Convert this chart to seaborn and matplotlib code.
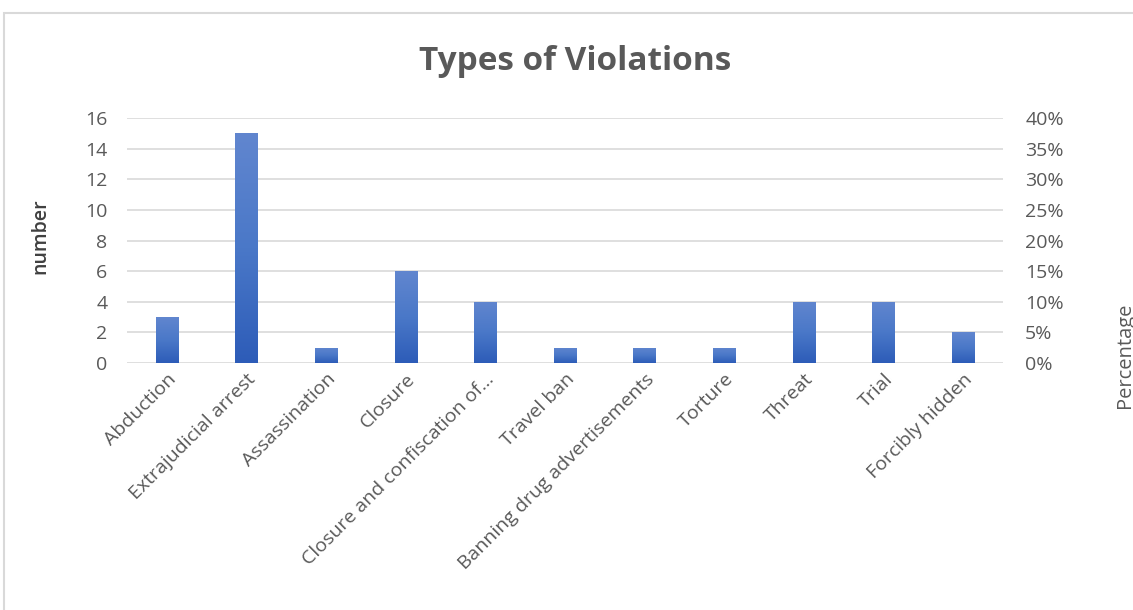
import matplotlib
matplotlib.use("Agg")
import matplotlib.pyplot as plt
import seaborn as sns
import numpy as np
import pandas as pd
from matplotlib.patches import Rectangle
from matplotlib.colors import LinearSegmentedColormap
from matplotlib.ticker import FuncFormatter

categories = ["Abduction", "Extrajudicial arrest", "Assassination", "Closure",
              "Closure and confiscation of...", "Travel ban",
              "Banning drug advertisements", "Torture", "Threat", "Trial",
              "Forcibly hidden"]
counts = [3, 15, 1, 6, 4, 1, 1, 1, 4, 4, 2]
left_ticks = [0, 2, 4, 6, 8, 10, 12, 14, 16]
right_ticks = [0, 0.05, 0.10, 0.15, 0.20, 0.25, 0.30, 0.35, 0.40]

sns.set_style("white")
plt.rcParams['font.family'] = ['Open Sans', 'DejaVu Sans']

df = pd.DataFrame({"category": categories, "count": counts})

fig = plt.figure(figsize=(11.33, 6.10), dpi=100)
ax = fig.add_axes([127/1133, 1-363/610, 876/1133, 245/610])

sns.barplot(data=df, x="category", y="count", ax=ax, color="#4472c4",
            width=0.28, saturation=1)

ax.set_ylim(0, 16)
ax.set_xlim(-0.5, len(categories)-0.5)
ax.set_yticks(left_ticks)
ax.yaxis.grid(True, color="#d9d9d9", linewidth=1.2)
ax.set_axisbelow(True)
for s in ax.spines.values():
    s.set_visible(False)

# gradient fill on bars
cmap = LinearSegmentedColormap.from_list("g", ["#2d5cb8", "#4a78c8", "#6186cf"])
grad = np.linspace(0, 1, 256).reshape(-1, 1)
for p in ax.patches:
    x0, y0 = p.get_x(), p.get_y()
    w, h = p.get_width(), p.get_height()
    p.set_facecolor("none")
    p.set_edgecolor("none")
    im = ax.imshow(grad, cmap=cmap, aspect="auto", origin="lower",
                   extent=[x0, x0+w, y0, y0+h], zorder=3)
    im.set_clip_path(p)
ax.set_xlim(-0.5, len(categories)-0.5)
ax.set_ylim(0, 16)

ax.tick_params(axis="y", length=0, labelsize=14, labelcolor="#595959", pad=14)
ax.tick_params(axis="x", length=0, labelsize=14, labelcolor="#595959", pad=5)
ax.set_xticks(range(len(categories)))
ax.set_xticklabels(categories, rotation=45, ha="right", rotation_mode="anchor")
ax.set_xlabel("")
ax.set_ylabel("")

ax2 = ax.twinx()
ax2.set_ylim(0, 0.40)
ax2.set_yticks(right_ticks)
ax2.yaxis.set_major_formatter(FuncFormatter(lambda v, _: f"{round(v*100)}%"))
ax2.tick_params(axis="y", length=0, labelsize=14, labelcolor="#595959", pad=16)
for s in ax2.spines.values():
    s.set_visible(False)

fig.text(575/1133, 1-62/610, "Types of Violations", ha="center", va="center",
         fontsize=24, fontweight="bold", color="#595959")
fig.text(40/1133, 1-236/610, "number", rotation=90, ha="center", va="center",
         fontsize=14, fontweight="semibold", color="#404040")
fig.text(1125/1133, 1-355/610, "Percentage", rotation=90, ha="center", va="center",
         fontsize=14.5, color="#595959")

fig.patches.append(Rectangle((4/1133, -0.05), 1.2, (1-13/610)+0.05,
                             transform=fig.transFigure, fill=False,
                             edgecolor="#d9d9d9", linewidth=1.5))

fig.savefig("out.png", dpi=100)
